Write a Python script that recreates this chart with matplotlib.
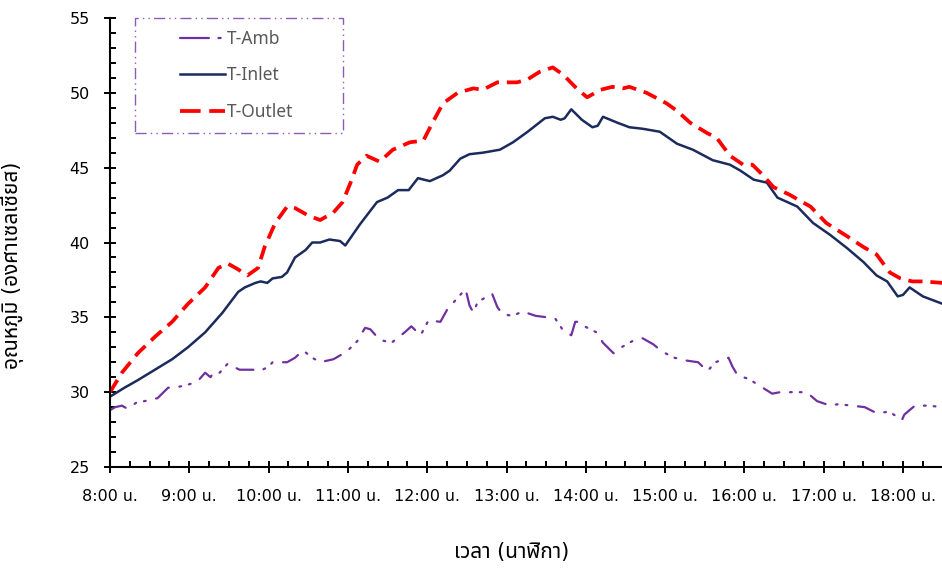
import matplotlib
matplotlib.use("Agg")
import matplotlib.pyplot as plt
from matplotlib import font_manager
from matplotlib.ft2font import FT2Font
from matplotlib.lines import Line2D
from matplotlib.patches import Rectangle
from matplotlib.ticker import MultipleLocator

# ---------------- data ----------------
inlet_time = ["08:00", "08:11", "08:21", "08:34", "08:47", "08:59", "09:12", "09:25", "09:37", "09:42",
              "09:50", "09:54", "09:59", "10:03", "10:10", "10:14", "10:20", "10:28", "10:33", "10:39",
              "10:46", "10:54", "10:58", "11:09", "11:22", "11:30", "11:38", "11:46", "11:53", "12:02",
              "12:12", "12:17", "12:25", "12:32", "12:42", "12:55", "13:05", "13:16", "13:29", "13:35",
              "13:41", "13:44", "13:49", "13:57", "14:05", "14:09", "14:13", "14:24", "14:33", "14:43",
              "14:56", "15:09", "15:21", "15:36", "15:49", "15:57", "16:07", "16:17", "16:25", "16:40",
              "16:52", "17:05", "17:18", "17:30", "17:40", "17:48", "17:56", "18:00", "18:05", "18:15",
              "18:30"]
inlet_temp = [29.7, 30.3, 30.8, 31.5, 32.2, 33.0, 34.0, 35.3, 36.7, 37.0,
              37.3, 37.4, 37.3, 37.6, 37.7, 38.0, 39.0, 39.5, 40.0, 40.0,
              40.2, 40.1, 39.8, 41.2, 42.7, 43.0, 43.5, 43.5, 44.3, 44.1,
              44.5, 44.8, 45.6, 45.9, 46.0, 46.2, 46.7, 47.4, 48.3, 48.4,
              48.2, 48.3, 48.9, 48.2, 47.7, 47.8, 48.4, 48.0, 47.7, 47.6,
              47.4, 46.6, 46.2, 45.5, 45.2, 44.8, 44.2, 44.0, 43.0, 42.4,
              41.3, 40.5, 39.6, 38.7, 37.8, 37.4, 36.4, 36.5, 37.0, 36.4,
              35.9]

outlet_time = ["08:00", "08:09", "08:21", "08:34", "08:47", "08:59", "09:12", "09:22", "09:29", "09:37",
               "09:44", "09:52", "09:57", "10:05", "10:14", "10:20", "10:30", "10:39", "10:49", "10:56",
               "11:02", "11:07", "11:14", "11:24", "11:34", "11:47", "11:57", "12:04", "12:12", "12:23",
               "12:35", "12:42", "12:53", "13:08", "13:16", "13:25", "13:35", "13:43", "13:53", "14:01",
               "14:11", "14:20", "14:28", "14:33", "14:46", "15:01", "15:09", "15:19", "15:32", "15:39",
               "15:49", "15:59", "16:06", "16:14", "16:22", "16:34", "16:50", "17:02", "17:18", "17:30",
               "17:40", "17:50", "17:58", "18:07", "18:15", "18:30"]
outlet_temp = [30.0, 31.3, 32.6, 33.7, 34.7, 35.9, 37.0, 38.3, 38.6, 38.2,
               37.8, 38.3, 39.7, 41.3, 42.4, 42.3, 41.8, 41.5, 42.0, 42.7,
               44.0, 45.2, 45.8, 45.4, 46.2, 46.7, 46.8, 48.0, 49.3, 50.0,
               50.3, 50.2, 50.7, 50.7, 50.9, 51.4, 51.7, 51.2, 50.3, 49.7,
               50.2, 50.4, 50.3, 50.4, 50.0, 49.3, 48.8, 48.0, 47.3, 47.0,
               45.8, 45.2, 45.2, 44.5, 43.7, 43.2, 42.4, 41.3, 40.4, 39.7,
               39.2, 38.0, 37.6, 37.4, 37.4, 37.3]

amb_time = ["08:00", "08:04", "08:09", "08:13", "08:20", "08:26", "08:36", "08:44", "08:49", "08:59",
            "09:06", "09:12", "09:16", "09:19", "09:23", "09:29", "09:38", "09:48", "09:53", "10:00",
            "10:03", "10:14", "10:20", "10:26", "10:33", "10:39", "10:49", "10:59", "11:07", "11:13",
            "11:17", "11:24", "11:33", "11:43", "11:48", "11:55", "12:01", "12:10", "12:15", "12:20",
            "12:29", "12:32", "12:35", "12:38", "12:49", "12:53", "12:57", "13:05", "13:12", "13:22",
            "13:31", "13:37", "13:43", "13:49", "13:52", "13:56", "13:59", "14:08", "14:13", "14:21",
            "14:27", "14:35", "14:43", "14:51", "14:58", "15:07", "15:17", "15:25", "15:32", "15:38",
            "15:48", "15:51", "15:55", "16:03", "16:12", "16:21", "16:27", "16:37", "16:47", "16:55",
            "17:05", "17:11", "17:21", "17:31", "17:40", "17:50", "17:59", "18:01", "18:09", "18:19",
            "18:30"]
amb_temp = [28.8, 29.0, 29.1, 28.9, 29.3, 29.4, 29.6, 30.3, 30.3, 30.5,
            30.7, 31.3, 31.0, 31.4, 31.3, 31.9, 31.5, 31.5, 31.4, 31.7,
            32.0, 32.0, 32.3, 32.8, 32.3, 32.0, 32.2, 32.7, 33.4, 34.3,
            34.2, 33.5, 33.3, 34.0, 34.4, 33.8, 34.8, 34.7, 35.5, 36.0,
            36.9, 35.8, 35.3, 36.0, 36.6, 35.7, 35.2, 35.1, 35.4, 35.1,
            35.0, 34.9, 34.1, 33.8, 34.7, 34.7, 34.4, 34.0, 33.3, 32.6,
            33.0, 33.4, 33.6, 33.2, 32.7, 32.3, 32.1, 32.0, 31.4, 32.0,
            32.3, 31.7, 31.1, 30.9, 30.4, 29.9, 30.0, 30.0, 30.0, 29.4,
            29.1, 29.2, 29.1, 29.0, 28.6, 28.7, 28.1, 28.5, 29.1, 29.1,
            29.0]

series_names = ["T-Amb", "T-Inlet", "T-Outlet"]
hour_ticks = [8, 9, 10, 11, 12, 13, 14, 15, 16, 17, 18]
hour_labels = ["8:00 น.", "9:00 น.", "10:00 น.", "11:00 น.", "12:00 น.", "13:00 น.",
               "14:00 น.", "15:00 น.", "16:00 น.", "17:00 น.", "18:00 น."]
y_ticks = [25, 30, 35, 40, 45, 50, 55]
x_label = "เวลา (นาฬิกา)"
y_label = "อุณหภูมิ (องศาเซลเซียส)"


def to_hours(s):
    h, m = s.split(":")
    return int(h) + int(m) / 60.0


# ---------------- font with Thai glyphs ----------------
def find_thai_font():
    preferred = ["Tahoma", "Leelawadee UI", "Leelawadee", "Noto Sans Thai", "Noto Sans Thai UI",
                 "Loma", "Garuda", "Sarabun", "TlwgTypo", "Waree", "Umpush", "Kinnari", "Norasi"]
    found = {}
    for fe in font_manager.fontManager.ttflist:
        if fe.name in found:
            continue
        try:
            cm = FT2Font(fe.fname).get_charmap()
        except Exception:
            continue
        if 0x0E27 in cm and 0x0E01 in cm:
            found[fe.name] = fe.fname
    for p in preferred:
        if p in found:
            return p
    if found:
        return sorted(found)[0]
    return None


thai = find_thai_font()
fam = ["DejaVu Sans"] + ([thai] if thai else [])
plt.rcParams["font.family"] = fam

# ---------------- figure ----------------
fig = plt.figure(figsize=(9.42, 5.68), dpi=100)
ax = fig.add_axes([110 / 942, 101 / 568, 832 / 942, 449 / 568])

c_amb = "#7030A0"
c_inlet = "#1B2B5E"
c_outlet = "#FF0000"

amb_ls = (0, (7.7, 4.8, 0.8, 3.6, 0.8, 4.8))
out_ls = (0, (3.8, 2.1))

ax.plot([to_hours(t) for t in amb_time], amb_temp, color=c_amb, lw=1.6, ls=amb_ls,
        dash_capstyle="round", solid_joinstyle="round")
ax.plot([to_hours(t) for t in inlet_time], inlet_temp, color=c_inlet, lw=1.8,
        solid_joinstyle="round")
ax.plot([to_hours(t) for t in outlet_time], outlet_temp, color=c_outlet, lw=2.7, ls=out_ls,
        dash_joinstyle="round")

ax.set_xlim(8, 18 + 29.5 / 60)
ax.set_ylim(25, 55)
ax.set_xticks(hour_ticks)
ax.set_xticklabels(hour_labels)
ax.set_yticks(y_ticks)
ax.xaxis.set_minor_locator(MultipleLocator(0.25))
ax.yaxis.set_minor_locator(MultipleLocator(1))

for s in ["top", "right"]:
    ax.spines[s].set_visible(False)
for s in ["left", "bottom"]:
    ax.spines[s].set_linewidth(1.5)
    ax.spines[s].set_color("black")

ax.tick_params(axis="both", which="major", direction="inout", length=9, width=1.4,
               labelsize=11.5, colors="black")
ax.tick_params(axis="both", which="minor", direction="in", length=4, width=1.4)
ax.tick_params(axis="x", which="major", pad=11)
ax.tick_params(axis="y", which="major", pad=10)

ax.set_xlabel(x_label, fontsize=15)
ax.set_ylabel(y_label, fontsize=15)
ax.xaxis.set_label_coords(0.483, -0.168)
ax.yaxis.set_label_coords(-0.103, 0.45)

# legend frame (dash-dot) and centred legend
rect = Rectangle((0.030, 0.744), 0.250, 0.256, transform=ax.transAxes, fill=False,
                 edgecolor="#8A5CB8", lw=1.0, ls=(0, (8, 3, 1, 3, 1, 3)), clip_on=False, zorder=5)
ax.add_patch(rect)

handles = [
    Line2D([], [], color=c_amb, lw=1.6, ls=(0, (13, 4.3, 1, 6)), dash_capstyle="round"),
    Line2D([], [], color=c_inlet, lw=1.8),
    Line2D([], [], color=c_outlet, lw=2.7, ls=(0, (5.5, 2.3))),
]
leg = ax.legend(handles, series_names, loc="center", bbox_to_anchor=(0.152, 0.872),
                frameon=False, handlelength=2.6, handletextpad=0.1,
                labelspacing=1.05, prop={"family": ["Noto Sans", "DejaVu Sans"], "size": 12.5})
for t in leg.get_texts():
    t.set_color("#595959")

fig.savefig("out.png", dpi=100)
